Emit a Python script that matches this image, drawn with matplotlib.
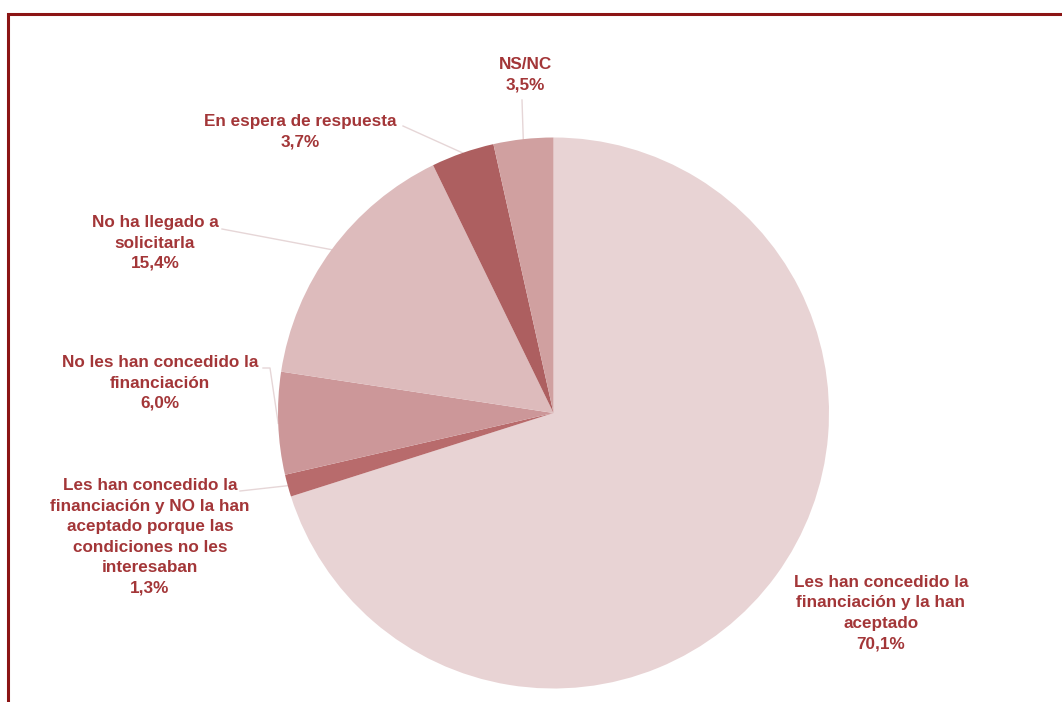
import numpy as np
import matplotlib
matplotlib.use("Agg")
import matplotlib.pyplot as plt
from matplotlib.patches import Rectangle

labels = [
    "Les han concedido la\nfinanciación y la han\naceptado",
    "Les han concedido la\nfinanciación y NO la han\naceptado porque las\ncondiciones no les\ninteresaban",
    "No les han concedido la\nfinanciación",
    "No ha llegado a\nsolicitarla",
    "En espera de respuesta",
    "NS/NC",
]
values = [70.1, 1.3, 6.0, 15.4, 3.7, 3.5]
colors = ["#E8D3D4", "#B86B6C", "#CC9799", "#DDBBBC", "#AD5F60", "#D0A0A0"]

# label text centres (pixels, top-left origin) and leader line start points
label_pos = [(881, 613), (150, 537), (160, 383), (155, 243), (300, 132), (525, 75)]
leader_start = [None, [(240, 491)], [(263, 368), (270, 368)], [(222, 229)], [(403, 126)], [(522, 100)]]

W, H = 1062, 702
fig = plt.figure(figsize=(W / 100, H / 100), dpi=100)
ax = fig.add_axes([0, 0, 1, 1])

cx, cy, r = 553.5, H - 413, 275.5
wedges, _ = ax.pie(values, colors=colors, startangle=90, counterclock=False,
                   center=(cx, cy), radius=r, frame=True,
                   wedgeprops=dict(linewidth=0))
ax.set_xlim(0, W)
ax.set_ylim(0, H)
ax.set_aspect("equal")
ax.axis("off")

txt_color = "#A33638"
font = dict(family="Liberation Sans", weight="bold", size=12.3)
for i, (lab, v) in enumerate(zip(labels, values)):
    s = f"{lab}\n{v:.1f}%".replace(".", ",")
    x, y = label_pos[i]
    ax.text(x, H - y, s, ha="center", va="center", color=txt_color,
            linespacing=1.45, **font)
    if leader_start[i] is not None:
        w = wedges[i]
        ang = np.deg2rad((w.theta1 + w.theta2) / 2)
        ex, ey = cx + r * np.cos(ang), cy + r * np.sin(ang)
        pts = [(px, H - py) for px, py in leader_start[i]] + [(ex, ey)]
        xs, ys = zip(*pts)
        ax.plot(xs, ys, color="#E6D6D7", lw=1.0, zorder=0.5)

fig.patches.append(Rectangle((8 / W, -0.2), 1.2, (H - 14) / H + 0.2, transform=fig.transFigure,
                             fill=False, edgecolor="#8B1414", linewidth=2.2))
fig.savefig("out.png", dpi=100)
